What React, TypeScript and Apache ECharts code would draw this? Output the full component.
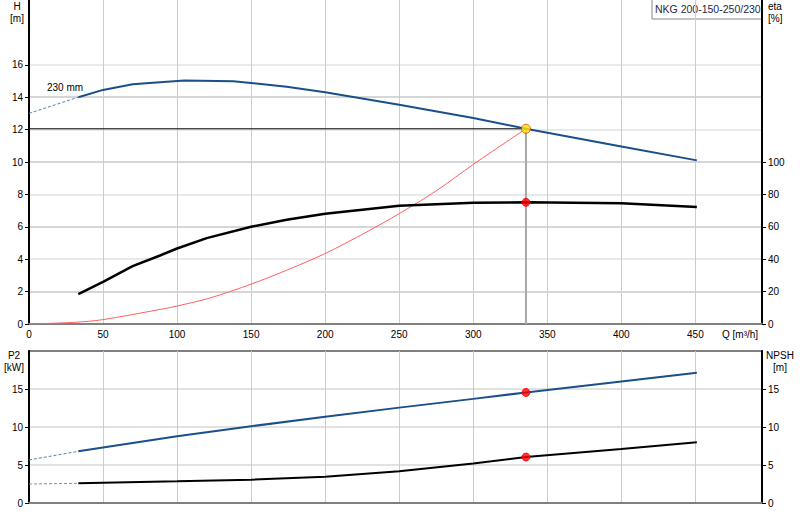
import React, { useEffect, useRef } from 'react';
import * as echarts from 'echarts';

const pumpName = 'NKG 200-150-250/230';
const impellerLabel = '230 mm';

// tick labels
const qLabels = [0, 50, 100, 150, 200, 250, 300, 350, 400, 450];
const hLabels = [0, 2, 4, 6, 8, 10, 12, 14, 16];
const etaLabels = [0, 20, 40, 60, 80, 100];
const powerLabels = [0, 5, 10, 15];

// duty point
const dutyQ = 335.6;
const dutyH = 12.05;
const dutyEta = 75.1;
const dutyP2 = 14.55;
const dutyNpsh = 6.05;

// [Q m3/h, value]
const headDashed = [[0, 13.0], [33.3, 14.0]];
const headCurve = [
  [33.3, 14.0], [50, 14.45], [70, 14.8], [88.5, 14.93], [105, 15.03], [138, 14.98],
  [150, 14.88], [174, 14.65], [200, 14.3], [250, 13.54], [300, 12.72], [335.6, 12.05],
  [400, 10.96], [451, 10.1],
];
const etaCurve = [
  [33.3, 18.5], [50, 26], [70, 35.7], [88.5, 42.3], [100, 46.6], [120, 53], [150, 60],
  [174, 64.4], [200, 68.1], [250, 73], [300, 74.8], [335.6, 75.1], [400, 74.5], [451, 72.2],
];
const systemCurve = [
  [0, 0], [30, 0.1], [50, 0.27], [88.5, 0.9], [100, 1.11], [122, 1.6], [150, 2.46],
  [174, 3.32], [200, 4.35], [228, 5.68], [250, 6.81], [275.5, 8.25], [300, 9.85], [335.6, 12.05],
];
const p2Dashed = [[0, 5.66], [33.3, 6.8]];
const p2Curve = [
  [33.3, 6.8], [100, 8.77], [150, 10.1], [200, 11.36], [250, 12.55], [300, 13.7],
  [335.6, 14.55], [400, 16.0], [451, 17.15],
];
const npshDashed = [[0, 2.5], [33.3, 2.59]];
const npshCurve = [
  [33.3, 2.59], [50, 2.67], [100, 2.85], [150, 3.07], [200, 3.46], [250, 4.18],
  [300, 5.2], [335.6, 6.05], [400, 7.1], [451, 8.0],
];

const font = "'Liberation Sans', Arial, sans-serif";
const blue = '#1a4f8b';

const App: React.FC = () => {
  const chartRef = useRef<HTMLDivElement>(null);

  useEffect(() => {
    if (!chartRef.current) return;
    const myChart = echarts.init(chartRef.current, undefined, { renderer: 'svg' });

    const label = (values: number[]) => ({
      customValues: values,
      color: '#000',
      fontSize: 10,
      fontFamily: font,
      margin: 6,
    });
    const line = (data: number[][], color: string, width: number, xi: number, yi: number, dashed = false, z = 3, smooth: any = false) => ({
      type: 'line',
      data,
      xAxisIndex: xi,
      yAxisIndex: yi,
      symbol: 'none',
      smooth,
      z,
      lineStyle: { color, width, type: dashed ? [3, 2] : 'solid' },
    });
    const dot = (data: number[][], xi: number, yi: number, fill: string, border: string, size: number) => ({
      type: 'scatter',
      data,
      xAxisIndex: xi,
      yAxisIndex: yi,
      symbolSize: size,
      z: 10,
      itemStyle: { color: fill, borderColor: border, borderWidth: 1 },
    });
    const text = (x: number, y: number, t: string, align = 'left') => ({
      type: 'text', x, y, z: 20,
      style: { text: t, fontSize: 10, lineHeight: 12, fontFamily: font, fill: '#000', align },
    });

    const option = {
      animation: false,
      backgroundColor: '#fff',
      grid: [
        { left: 29, right: 38, top: 0, height: 324 },
        { left: 29, right: 38, top: 351, height: 152, show: true, borderColor: '#808080', borderWidth: 2 },
      ],
      xAxis: [
        {
          gridIndex: 0, type: 'value', min: 0, max: 495, interval: 50,
          axisLine: { lineStyle: { color: '#808080', width: 2 } },
          axisTick: { show: false },
          axisLabel: { ...label(qLabels), margin: 5 },
          splitLine: { show: true, lineStyle: { color: '#cccccc', width: 1 } },
        },
        {
          gridIndex: 1, type: 'value', min: 0, max: 495, interval: 50,
          axisLine: { lineStyle: { color: '#808080', width: 2 } },
          axisTick: { show: false },
          axisLabel: { show: false },
          splitLine: { show: true, lineStyle: { color: '#cccccc', width: 1 } },
        },
      ],
      yAxis: [
        {
          gridIndex: 0, type: 'value', min: 0, max: 20, interval: 2, position: 'left',
          axisLine: { show: true, lineStyle: { color: '#000', width: 2 } },
          axisTick: { show: true, customValues: hLabels, length: 4, lineStyle: { color: '#000' } },
          axisLabel: label(hLabels),
          splitLine: { show: true, lineStyle: { color: ['#e2e2e2', '#c8c8c8'], width: 1.5 } },
        },
        {
          gridIndex: 0, type: 'value', min: 0, max: 200, interval: 20, position: 'right',
          axisLine: { show: true, lineStyle: { color: '#000', width: 2 } },
          axisTick: { show: true, customValues: etaLabels, length: 4, lineStyle: { color: '#000' } },
          axisLabel: label(etaLabels),
          splitLine: { show: false },
        },
        {
          gridIndex: 1, type: 'value', min: 0, max: 20, interval: 5, position: 'left',
          axisLine: { show: true, lineStyle: { color: '#000', width: 2 } },
          axisTick: { show: true, customValues: powerLabels, length: 4, lineStyle: { color: '#000' } },
          axisLabel: label(powerLabels),
          splitLine: { show: true, lineStyle: { color: '#e2e2e2', width: 2 } },
        },
        {
          gridIndex: 1, type: 'value', min: 0, max: 20, interval: 5, position: 'right',
          axisLine: { show: true, lineStyle: { color: '#000', width: 2 } },
          axisTick: { show: true, customValues: powerLabels, length: 4, lineStyle: { color: '#000' } },
          axisLabel: label(powerLabels),
          splitLine: { show: false },
        },
      ],
      series: [
        line([[dutyQ, dutyH], [dutyQ, 0]], '#a8a8a8', 2, 0, 0, false, 2),
        line([[0, dutyH], [dutyQ, dutyH]], '#000', 1, 0, 0, false, 2),
        line(systemCurve, '#ff6060', 1, 0, 0, false, 3, 0.3),
        line(headDashed, '#5a7fae', 1, 0, 0, true),
        line(headCurve, blue, 2, 0, 0),
        line(etaCurve, '#000', 2.5, 0, 1),
        dot([[dutyQ, dutyH]], 0, 0, '#ffe600', '#f03c00', 9),
        dot([[dutyQ, dutyEta]], 0, 1, '#ff0000', '#ff0000', 8),
        line(p2Dashed, '#5a7fae', 1, 1, 2, true),
        line(p2Curve, blue, 2, 1, 2),
        line(npshDashed, '#909090', 1, 1, 3, true),
        line(npshCurve, '#000', 2, 1, 3),
        dot([[dutyQ, dutyP2]], 1, 2, '#ff0000', '#ff0000', 8),
        dot([[dutyQ, dutyNpsh]], 1, 3, '#ff0000', '#ff0000', 8),
      ],
      graphic: [
        text(17, 0, 'H\n[m]', 'center'),
        text(768, 0, 'eta\n[%]'),
        text(14, 349, 'P2\n[kW]', 'center'),
        text(780, 349, 'NPSH\n[m]', 'center'),
        text(722, 328, 'Q [m³/h]'),
        text(47, 81, impellerLabel),
        {
          type: 'group', x: 652, y: 0, z: 20,
          children: [
            { type: 'rect', shape: { x: 0, y: -2, width: 110, height: 21 }, style: { fill: '#fff', stroke: '#888', lineWidth: 1 } },
            { type: 'text', x: 3, y: 3, style: { text: pumpName, fontSize: 10.5, fontFamily: font, fill: '#1b2a4a' } },
          ],
        },
      ],
    };

    myChart.setOption(option as any);
    return () => {
      myChart.dispose();
    };
  }, []);

  return (
    <div
      ref={chartRef}
      style={{ position: 'fixed', left: 0, top: 0, width: 800, height: 520, background: '#fff' }}
    />
  );
};

export default App;
